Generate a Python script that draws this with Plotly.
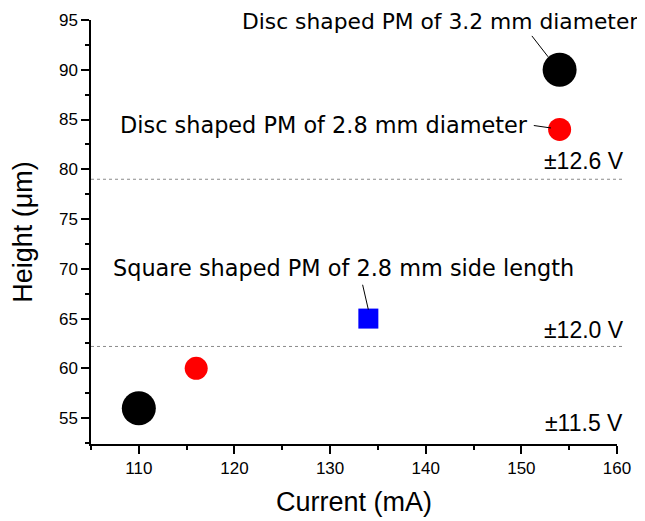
import plotly.graph_objects as go

# Data
currents = [110, 116, 134, 154, 154]
heights = [56, 60, 65, 84, 90]
colors = ["black", "red", "blue", "red", "black"]
symbols = ["circle", "circle", "square", "circle", "circle"]
sizes = [34, 23, 20, 23, 34]

voltage_levels = [79.0, 62.2]
voltage_labels = ["±12.6 V", "±12.0 V", "±11.5 V"]
voltage_label_y = [80.83, 63.84, 54.5]

labels = ["Disc shaped PM of 3.2 mm diameter",
          "Disc shaped PM of 2.8 mm diameter",
          "Square shaped PM of 2.8 mm side length"]
label_x = [141.45, 129.4, 131.4]
label_y = [94.8, 84.45, 70.1]
label_size = [21.8, 22.4, 22.4]
leader_lines = [((151.1, 93.4), (152.8, 91.3)),
                ((151.3, 84.4), (153.1, 84.15)),
                ((133.4, 68.4), (134.0, 65.9))]

fig = go.Figure()
fig.add_trace(go.Scatter(
    x=currents, y=heights, mode="markers",
    marker=dict(color=colors, symbol=symbols, size=sizes, opacity=1, line=dict(width=0)),
    opacity=1, showlegend=False, cliponaxis=False))

shapes = []
for yv in voltage_levels:
    shapes.append(dict(type="line", xref="paper", yref="y", x0=0, x1=1.015,
                       y0=yv, y1=yv, line=dict(color="#8a8a8a", width=1, dash="dot")))
for (a, b) in leader_lines:
    shapes.append(dict(type="line", xref="x", yref="y", x0=a[0], y0=a[1],
                       x1=b[0], y1=b[1], line=dict(color="black", width=1)))

annotations = []
for t, xx, yy, sz in zip(labels, label_x, label_y, label_size):
    annotations.append(dict(text=t, x=xx, y=yy, xref="x", yref="y", showarrow=False,
                            xanchor="center", yanchor="middle",
                            font=dict(family="DejaVu Sans", size=sz, color="black")))
for t, yy in zip(voltage_labels, voltage_label_y):
    annotations.append(dict(text=t, x=156.6, y=yy, xref="x", yref="y", showarrow=False,
                            xanchor="center", yanchor="middle",
                            font=dict(family="Liberation Sans", size=23, color="black")))

fig.update_layout(
    width=637, height=513,
    margin=dict(l=83, r=28, t=12, b=77),
    paper_bgcolor="white", plot_bgcolor="white",
    shapes=shapes, annotations=annotations,
    font=dict(family="Liberation Sans", color="black"),
    xaxis=dict(range=[105, 160], tickvals=[110, 120, 130, 140, 150, 160], automargin=False,
               showgrid=False, zeroline=False, showline=True, linecolor="black", linewidth=1.5,
               ticks="outside", ticklen=8, tickwidth=1.5, tickcolor="black",
               tickfont=dict(size=17),
               minor=dict(dtick=5, tick0=105, ticks="outside", ticklen=4, tickcolor="black", tickwidth=1.5),
               title=dict(text="Current (mA)", font=dict(size=27), standoff=15)),
    yaxis=dict(range=[52.4, 95], tickvals=[55, 60, 65, 70, 75, 80, 85, 90, 95], automargin=False,
               showgrid=False, zeroline=False, showline=True, linecolor="black", linewidth=1.5,
               ticks="outside", ticklen=8, tickwidth=1.5, tickcolor="black",
               tickfont=dict(size=17),
               minor=dict(dtick=2.5, tick0=52.5, ticks="outside", ticklen=4, tickcolor="black", tickwidth=1.5),
               title=dict(text="Height (μm)", font=dict(size=27), standoff=18)),
)

fig.write_html("out.html")
